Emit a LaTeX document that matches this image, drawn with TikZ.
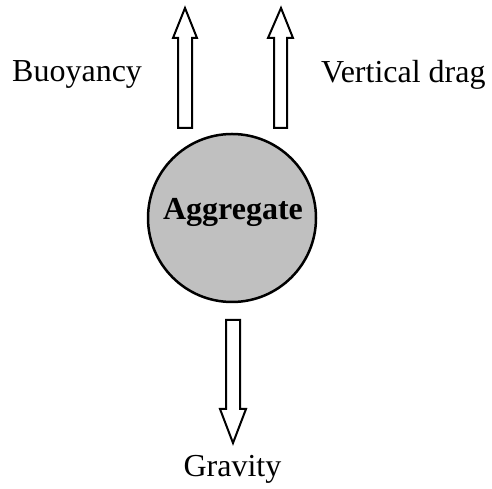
\documentclass[tikz,border=0pt]{standalone}
\usepackage{fontspec}
\setmainfont{Liberation Serif}
\begin{document}
\begin{tikzpicture}[x=1pt,y=1pt,
  lbl/.style={inner sep=0pt,font=\fontsize{32}{38}\selectfont},
  forcearrow/.style={draw=black,line width=2pt,fill=white,line join=miter},
  body/.style={circle,draw=black,line width=2.5pt,fill={rgb,255:red,192;green,192;blue,192},minimum size=168pt,inner sep=0pt}]
\useasboundingbox (0,0) rectangle (492,489);
\node[body] (agg) at (232,271) {};
\node[lbl,anchor=base,font=\fontsize{32}{38}\selectfont\bfseries] (aggtxt) at (233,269) {Aggregate};
\node[lbl,anchor=base west] (buoy) at (12,407) {Buoyancy};
\node[lbl,anchor=base west] (drag) at (321,406) {Vertical drag};
\node[lbl,anchor=base] (grav) at (232.5,12) {Gravity};
% up arrow (buoyancy)
\draw[forcearrow] (178,361) -- (192,361) -- (192,451) -- (197,451) -- (185,481) -- (173,451) -- (178,451) -- cycle;
% up arrow (vertical drag)
\draw[forcearrow] (274,361) -- (287,361) -- (287,451) -- (293,451) -- (281,481) -- (268,451) -- (274,451) -- cycle;
% down arrow (gravity)
\draw[forcearrow] (226,169) -- (240,169) -- (240,80) -- (246,80) -- (233,46) -- (220,80) -- (226,80) -- cycle;
\end{tikzpicture}
\end{document}
